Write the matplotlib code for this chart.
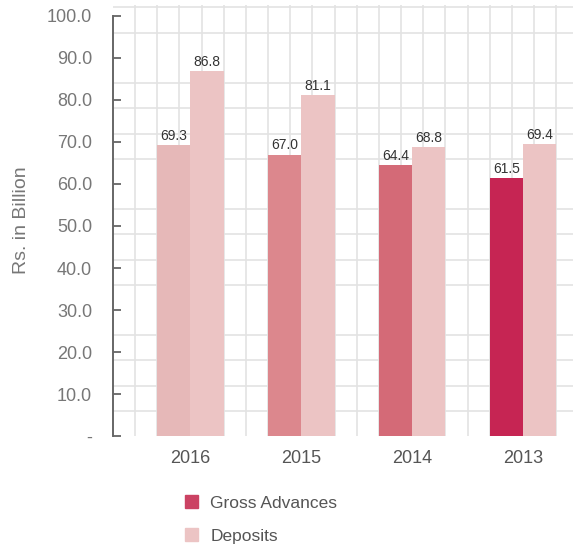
import numpy as np
import matplotlib.pyplot as plt
from matplotlib.patches import Patch
from matplotlib.ticker import FixedLocator

years = ['2016', '2015', '2014', '2013']
gross_advances = [69.3, 67.0, 64.4, 61.5]
deposits = [86.8, 81.1, 68.8, 69.4]

# shades used for the gross advances bars, lightest to darkest
gross_colors = ['#E6B8B8', '#DC878D', '#D46A77', '#C62553']
deposit_color = '#ECC4C4'
legend_gross = '#CB4263'

plt.rcParams['font.family'] = ['Liberation Sans', 'DejaVu Sans']

fig = plt.figure(figsize=(5.73, 5.52), dpi=100)
ax = fig.add_axes([0.197, 0.210, 0.803, 0.781])

x = np.arange(len(years))
w = 0.3
b1 = ax.bar(x - w / 2, gross_advances, w, color=gross_colors, zorder=2)
b2 = ax.bar(x + w / 2, deposits, w, color=deposit_color, zorder=2)

for bars, vals in [(b1, gross_advances), (b2, deposits)]:
    for rect, v in zip(bars, vals):
        ax.annotate(f'{v:.1f}', xy=(rect.get_x() + rect.get_width() / 2, v),
                    xytext=(0, 1.5), textcoords='offset points',
                    ha='center', va='bottom', fontsize=10, color='#333333')

ax.set_xlim(-0.7, 3.45)
ax.set_ylim(0, 102.6)

# background grid
ax.xaxis.set_minor_locator(FixedLocator(np.arange(-0.5, 3.5, 0.2)))
ax.yaxis.set_minor_locator(FixedLocator(np.arange(0, 103, 6)))
ax.grid(which='minor', color='#E3E3E3', linewidth=1.2, zorder=0)

ax.set_xticks(x)
ax.set_xticklabels(years)
ax.tick_params(axis='x', which='major', length=0, pad=10, labelsize=13,
               labelcolor='#555555')

yt = np.arange(0, 101, 10)
ax.set_yticks(yt)
ax.set_yticklabels(['-' if v == 0 else f'{v:.1f}' for v in yt])
ax.tick_params(axis='y', which='major', direction='in', length=6, width=1.3,
               color='#666666', pad=15, labelsize=13, labelcolor='#777777')
ax.tick_params(which='minor', left=False, bottom=False, length=0, width=0)

for s in ['top', 'right', 'bottom']:
    ax.spines[s].set_visible(False)
ax.spines['left'].set_bounds(0, 100)
ax.spines['left'].set_color('#666666')
ax.spines['left'].set_linewidth(1.4)
ax.set_axisbelow(True)

ax.set_ylabel('Rs. in Billion', fontsize=14, color='#777777', labelpad=12)

handles = [Patch(color=legend_gross, label='Gross Advances'),
           Patch(color=deposit_color, label='Deposits')]
fig.legend(handles=handles, loc='upper left', bbox_to_anchor=(0.296, 0.131),
           frameon=False, fontsize=12.5, labelcolor='#555555',
           handlelength=0.75, handleheight=0.75, handletextpad=0.7,
           labelspacing=1.02)

fig.savefig('out.png', dpi=100)
